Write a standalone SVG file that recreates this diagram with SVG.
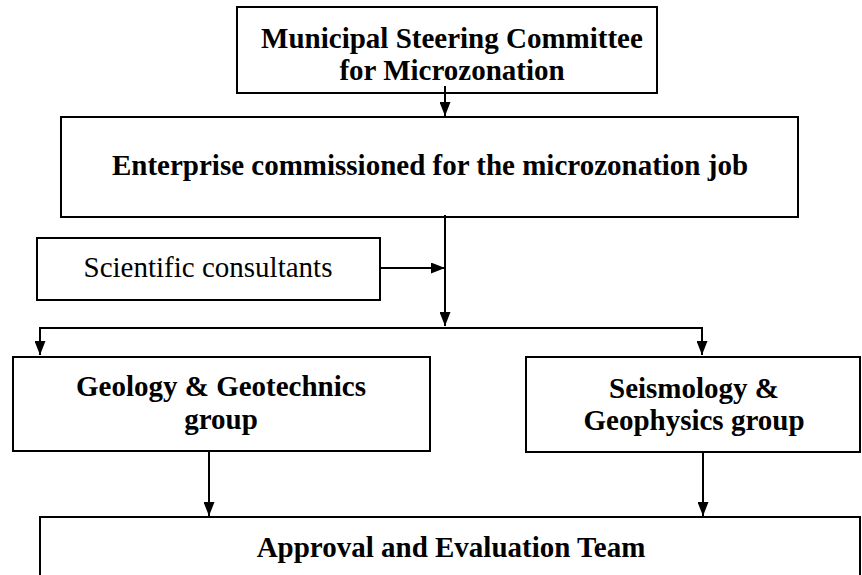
<svg xmlns="http://www.w3.org/2000/svg" width="862" height="575" viewBox="0 0 862 575">
<defs>
<marker id="ah" viewBox="0 0 14 11" refX="14" refY="5.5" markerWidth="14" markerHeight="11" markerUnits="userSpaceOnUse" orient="auto">
<path d="M0,0 L14,5.5 L0,11 z" fill="#000"/>
</marker>
<style>
.box{fill:#fff;stroke:#000;stroke-width:2}
.t{font-family:"Liberation Serif","Times New Roman",serif;font-size:29px;fill:#000;text-anchor:middle}
.b{font-weight:bold}
.c{fill:none;stroke:#000;stroke-width:2}
</style>
</defs>
<rect width="862" height="575" fill="#fff"/>
<g id="n1">
<rect class="box" x="237" y="7" width="420" height="86"/>
<text class="t b" x="452" y="48">Municipal Steering Committee</text>
<text class="t b" x="452" y="80">for Microzonation</text>
</g>
<g id="n2">
<rect class="box" x="61" y="117" width="737" height="100"/>
<text class="t b" x="430" y="175">Enterprise commissioned for the microzonation job</text>
</g>
<g id="n3">
<rect class="box" x="37" y="238" width="343" height="62"/>
<text class="t" x="208" y="277">Scientific consultants</text>
</g>
<g id="n4">
<rect class="box" x="13" y="357" width="417" height="94"/>
<text class="t b" x="221" y="396">Geology &amp; Geotechnics</text>
<text class="t b" x="221" y="429">group</text>
</g>
<g id="n5">
<rect class="box" x="526" y="357" width="334" height="95"/>
<text class="t b" x="694" y="398">Seismology &amp;</text>
<text class="t b" x="694" y="430">Geophysics group</text>
</g>
<g id="n6">
<rect class="box" x="40" y="517" width="820" height="70"/>
<text class="t b" x="451" y="557">Approval and Evaluation Team</text>
</g>
<g id="connectors">
<line class="c" x1="445" y1="86" x2="445" y2="116" marker-end="url(#ah)"/>
<line class="c" x1="445" y1="215" x2="445" y2="326" marker-end="url(#ah)"/>
<line class="c" x1="380" y1="268" x2="445" y2="268" marker-end="url(#ah)"/>
<polyline class="c" points="40,328 702,328"/>
<line class="c" x1="40" y1="327" x2="40" y2="355" marker-end="url(#ah)"/>
<line class="c" x1="702" y1="327" x2="702" y2="355" marker-end="url(#ah)"/>
<line class="c" x1="209" y1="451" x2="209" y2="516" marker-end="url(#ah)"/>
<line class="c" x1="703" y1="452" x2="703" y2="516" marker-end="url(#ah)"/>
</g>
</svg>
